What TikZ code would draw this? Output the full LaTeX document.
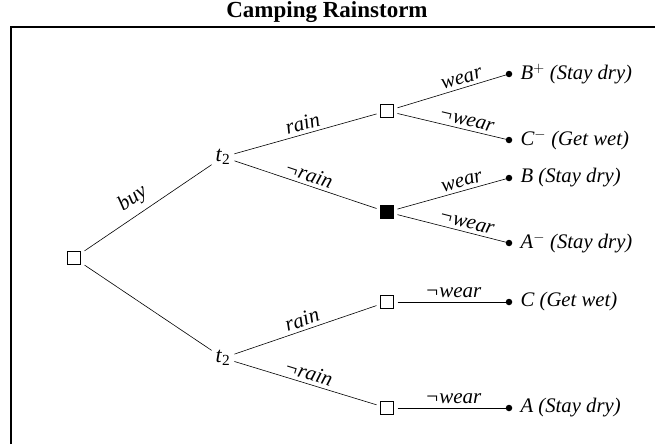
\documentclass[tikz,border=0pt]{standalone}
\usepackage{fontspec}
\setmainfont{Liberation Serif}
\usepackage{tikz}
\usetikzlibrary{positioning}
\tikzset{
  decbox/.style={draw, line width=0.6pt, minimum size=13pt, inner sep=0pt, outer sep=4pt},
  chance/.style={inner sep=2pt, outer sep=2pt, font=\fontsize{22}{22}\selectfont},
  outcome/.style={circle, fill=black, minimum size=6.5pt, inner sep=0pt},
  payoff/.style={right=8pt, font=\fontsize{20.7}{22}\selectfont\itshape, inner sep=0pt},
  lbl/.style={above, sloped, inner sep=3.5pt, font=\fontsize{21}{21}\selectfont\itshape},
  branch/.style={line width=0.6pt}
}
\begin{document}
\begin{tikzpicture}[x=1pt,y=-1pt]
  \useasboundingbox (0,0) rectangle (655,444);
  % title and frame
  \node[font=\fontsize{23}{24}\selectfont\bfseries] (title) at (327,12) {Camping Rainstorm};
  \draw[line width=1.1pt] (11,444) -- (11,27) -- (655,27);
  % decision and chance nodes
  \node[decbox] (root) at (74,258) {};
  \node[chance] (tup) at (223,157) {\textit{t}\textsubscript{2}};
  \node[chance] (tdn) at (223,358) {\textit{t}\textsubscript{2}};
  \node[decbox] (dA) at (387,111) {};
  \node[decbox, fill=black] (dB) at (387,212) {};
  \node[decbox] (dC) at (387,302) {};
  \node[decbox] (dD) at (387,408) {};
  % outcomes
  \node[outcome] (o1) at (509,74) {};
  \node[outcome] (o2) at (509,140) {};
  \node[outcome] (o3) at (509,178) {};
  \node[outcome] (o4) at (509,243) {};
  \node[outcome] (o5) at (509,302) {};
  \node[outcome] (o6) at (509,408) {};
  \node[payoff] at (o1.east) {\textit{B}$^{+}$ (Stay dry)};
  \node[payoff] at (o2.east) {\textit{C}$^{-}$ (Get wet)};
  \node[payoff] at (o3.east) {\textit{B} (Stay dry)};
  \node[payoff] at (o4.east) {\textit{A}$^{-}$ (Stay dry)};
  \node[payoff] at (o5.east) {\textit{C} (Get wet)};
  \node[payoff] at (o6.east) {\textit{A} (Stay dry)};
  % branches
  \draw[branch] (root) -- node[lbl, pos=0.45, inner sep=6pt] {buy} (tup);
  \draw[branch] (root) -- (tdn);
  \draw[branch] (tup) -- node[lbl] {rain} (dA);
  \draw[branch] (tup) -- node[lbl] {¬rain} (dB);
  \draw[branch] (tdn) -- node[lbl] {rain} (dC);
  \draw[branch] (tdn) -- node[lbl] {¬rain} (dD);
  \draw[branch] (dA) -- node[lbl, pos=0.6] {wear} (o1.center);
  \draw[branch] (dA) -- node[lbl, pos=0.6] {¬wear} (o2.center);
  \draw[branch] (dB) -- node[lbl, pos=0.6] {wear} (o3.center);
  \draw[branch] (dB) -- node[lbl, pos=0.6] {¬wear} (o4.center);
  \draw[branch] (dC) -- node[lbl, pos=0.5] {¬wear} (o5.center);
  \draw[branch] (dD) -- node[lbl, pos=0.5] {¬wear} (o6.center);
\end{tikzpicture}
\end{document}
